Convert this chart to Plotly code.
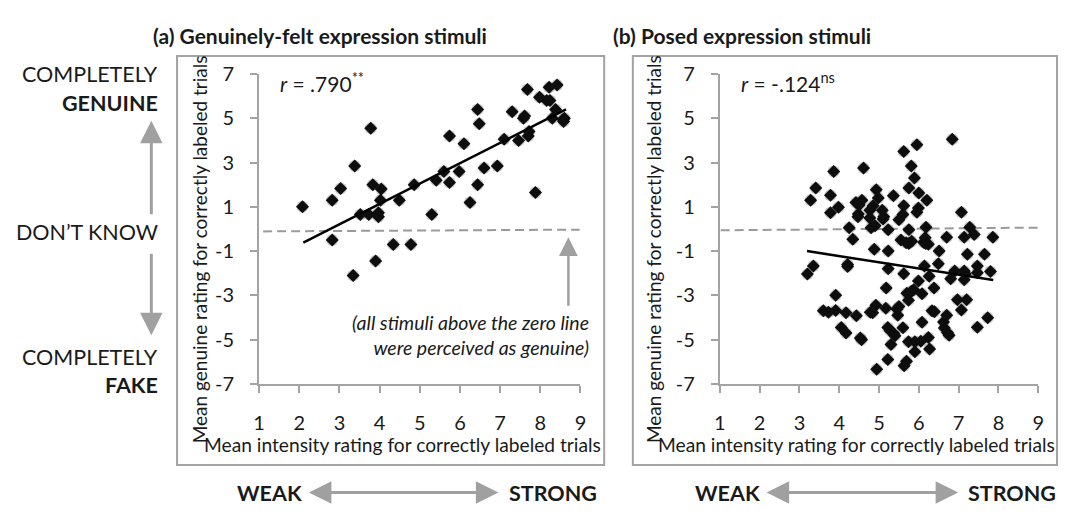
import plotly.graph_objects as go

W, H = 1065, 516

# ---- data: panel (a) genuinely-felt ----
a_intensity = [2.08, 2.82, 3.03, 2.82, 3.38, 3.34, 3.52, 3.73, 3.78, 3.83, 3.97, 3.97, 4.04, 4.02, 3.90,
               4.34, 4.49, 4.78, 4.86, 5.30, 5.41, 5.60, 5.74, 5.74, 5.98, 6.10, 6.25, 6.44, 6.44, 6.48,
               6.60, 6.93, 7.10, 7.30, 7.46, 7.58, 7.61, 7.68, 7.72, 7.70, 7.88, 7.98, 8.16, 8.24, 8.22,
               8.42, 8.30, 8.38, 8.57, 8.60, 8.58]
a_genuine = [1.00, 1.30, 1.83, -0.50, 2.85, -2.10, 0.65, 0.65, 4.55, 2.00, 0.73, 0.55, 1.80, 1.30, -1.45,
             -0.70, 1.30, -0.70, 2.00, 0.65, 2.20, 2.60, 2.10, 4.20, 2.60, 3.85, 1.20, 2.00, 5.40, 4.75,
             2.75, 2.85, 4.05, 5.30, 4.00, 5.00, 5.10, 6.30, 4.40, 4.20, 1.65, 5.95, 5.80, 5.80, 6.40,
             6.50, 5.00, 5.40, 4.95, 5.00, 4.85]
a_fit_x = [2.10, 8.64]
a_fit_y = [-0.62, 5.40]
a_zero_x = [1.10, 8.98]
a_zero_y = [-0.11, -0.03]

# ---- data: panel (b) posed ----
b_intensity = [6.84, 5.95, 5.62, 5.81, 4.61, 3.86, 5.89, 5.75, 3.41, 4.93, 6.00, 5.36, 3.78, 4.98, 3.28,
               6.20, 4.57, 4.42, 4.50, 5.62, 3.98, 4.85, 5.99, 5.08, 4.77, 5.95, 3.78, 4.48, 4.47, 7.07,
               5.12, 5.10, 5.60, 5.50, 4.77, 4.90, 4.80, 4.25, 5.23, 5.75, 6.18, 7.28, 7.39, 7.14, 7.86,
               6.70, 5.55, 4.34, 6.16, 6.12, 5.75, 5.82, 5.68, 6.24, 6.17, 6.51, 4.88, 5.23, 7.22, 7.65,
               3.35, 3.20, 4.21, 4.21, 5.23, 6.14, 6.49, 7.47, 6.90, 7.14, 7.17, 7.80, 5.62, 7.47, 6.80,
               6.26, 7.14, 5.99, 5.18, 6.38, 5.87, 5.81, 6.08, 5.70, 5.74, 3.91, 6.97, 7.20, 7.07, 4.92,
               5.17, 5.50, 5.45, 3.60, 3.73, 3.91, 4.17, 4.43, 4.78, 4.84, 5.47, 6.33, 6.39, 6.70, 7.73,
               6.08, 6.62, 4.05, 5.60, 5.22, 6.64, 7.47, 4.17, 5.28, 5.37, 5.40, 6.72, 6.76, 6.24, 4.53,
               4.56, 5.74, 5.90, 6.05, 5.30, 6.27, 5.90, 5.22, 5.69, 5.63, 4.94]
b_genuine = [4.05, 3.80, 3.50, 2.85, 2.75, 2.60, 2.30, 1.85, 1.85, 1.77, 1.62, 1.50, 1.52, 1.40, 1.30,
             1.30, 1.30, 1.20, 1.08, 1.05, 0.98, 1.05, 0.95, 0.85, 0.85, 0.75, 0.73, 0.68, 0.55, 0.75,
             0.55, 0.45, 0.65, 0.42, 0.50, 0.15, 0.05, 0.05, -0.03, -0.03, 0.08, 0.08, -0.25, -0.37, -0.37,
             -0.37, -0.50, -0.47, -0.40, -0.60, -0.66, -0.56, -0.62, -0.69, -0.66, -1.00, -0.92, -1.00, -1.14, -1.14,
             -1.67, -2.04, -1.60, -1.70, -1.80, -1.67, -1.57, -1.67, -1.90, -1.90, -2.03, -1.92, -2.02, -1.98, -2.25,
             -2.14, -2.30, -2.35, -2.67, -2.67, -2.75, -2.83, -2.93, -2.90, -3.22, -3.00, -3.20, -3.20, -3.66, -3.45,
             -3.58, -3.50, -3.62, -3.70, -3.76, -3.68, -3.78, -3.92, -3.76, -3.78, -3.90, -3.70, -3.74, -3.90, -4.01,
             -4.22, -4.20, -4.45, -4.46, -4.45, -4.47, -4.44, -4.70, -4.60, -4.72, -4.83, -4.69, -4.80, -4.90, -4.93,
             -5.00, -5.10, -5.10, -5.07, -5.22, -5.42, -5.55, -5.90, -5.98, -6.18, -6.34]
b_fit_x = [3.19, 7.87]
b_fit_y = [-1.00, -2.31]
b_zero_x = [1.02, 9.00]
b_zero_y = [-0.06, 0.06]

x_ticks = [1, 2, 3, 4, 5, 6, 7, 8, 9]
y_ticks = [-7, -5, -3, -1, 1, 3, 5, 7]
y_tick_labels = ["-7", "-5", "-3", "-1", "1", "3", "5", "7"]

FONT = "Lato"
GREY = "#a3a3a3"
TXT = "#1a1a1a"


def px(x):
    return x / W


def py(y):
    return 1 - y / H


fig = go.Figure()


def add_panel(xs, ys, fx, fy, zx, zy, xa, ya):
    fig.add_trace(go.Scatter(x=zx, y=zy, mode="lines", xaxis=xa, yaxis=ya,
                             line=dict(color="#9a9a9a", width=2, dash="9px,5px"),
                             hoverinfo="skip", showlegend=False))
    fig.add_trace(go.Scatter(x=xs, y=ys, mode="markers", xaxis=xa, yaxis=ya,
                             marker=dict(symbol="circle", size=12, color="rgba(0,0,0,0.22)",
                                         line=dict(width=0)),
                             hoverinfo="skip", showlegend=False))
    fig.add_trace(go.Scatter(x=xs, y=ys, mode="markers", xaxis=xa, yaxis=ya,
                             marker=dict(symbol="diamond", size=10, color="#0d0d0d",
                                         line=dict(width=0)),
                             showlegend=False))
    fig.add_trace(go.Scatter(x=fx, y=fy, mode="lines", xaxis=xa, yaxis=ya,
                             line=dict(color="black", width=2.5),
                             hoverinfo="skip", showlegend=False))


add_panel(a_intensity, a_genuine, a_fit_x, a_fit_y, a_zero_x, a_zero_y, "x", "y")
add_panel(b_intensity, b_genuine, b_fit_x, b_fit_y, b_zero_x, b_zero_y, "x2", "y2")

axis_common = dict(showline=True, linecolor=GREY, linewidth=2, ticks="outside", ticklen=7,
                   tickwidth=2, tickcolor=GREY, showgrid=False, zeroline=False,
                   tickfont=dict(family=FONT, size=20, color=TXT))

fig.update_layout(
    width=W, height=H, margin=dict(l=0, r=0, t=0, b=0),
    paper_bgcolor="white", plot_bgcolor="white", showlegend=False,
    xaxis=dict(domain=[px(256), px(581)], range=[1, 9], tickvals=x_ticks, anchor="y",
               ticklabelstandoff=13, **axis_common),
    yaxis=dict(domain=[py(389), py(64)], range=[-7, 7], tickvals=y_ticks, ticktext=y_tick_labels,
               anchor="x", ticklabelstandoff=12, **axis_common),
    xaxis2=dict(domain=[px(722), px(1044)], range=[1, 9], tickvals=x_ticks, anchor="y2",
                ticklabelstandoff=13, **axis_common),
    yaxis2=dict(domain=[py(389), py(64)], range=[-7, 7], tickvals=y_ticks, ticktext=y_tick_labels,
                anchor="x2", ticklabelstandoff=12, **axis_common),
)

# panel frames
for x0, x1 in [(173, 605), (634, 1063)]:
    fig.add_shape(type="rect", xref="paper", yref="paper", x0=px(x0), x1=px(x1), y0=py(474), y1=py(45),
                  line=dict(color=GREY, width=2), layer="below")

ann = []


def text(x, y, s, size=17, xanchor="center", bold=False, italic=False, angle=0, color=TXT, align="center"):
    if bold:
        s = "<b>" + s + "</b>"
    if italic:
        s = "<i>" + s + "</i>"
    ann.append(dict(x=px(x), y=py(y), xref="paper", yref="paper", text=s, showarrow=False,
                    xanchor=xanchor, yanchor="middle", textangle=angle, align=align,
                    font=dict(family=FONT, size=size, color=color)))


def arrow(x, y, ax, ay, both=False):
    ann.append(dict(x=px(x), y=py(y), xref="paper", yref="paper", ax=ax, ay=ay, text="",
                    showarrow=True, arrowhead=2, startarrowhead=2, arrowsize=1.5, startarrowsize=1.5,
                    arrowwidth=3, arrowcolor="#a0a0a0",
                    arrowside="end+start" if both else "end", standoff=0, startstandoff=0))


# titles
text(147, 24, "(a) Genuinely-felt expression stimuli", size=21, xanchor="left", bold=True)
text(612, 24, "(b) Posed expression stimuli", size=21, xanchor="left", bold=True)

# correlation labels
text(275, 72, "<i>r</i> = .790<sup>**</sup>", size=21, xanchor="left")
text(741, 72, "<i>r</i> = -.124<sup>ns</sup>", size=21, xanchor="left")

# axis titles
yt = "Mean genuine rating for correctly labeled trials"
xt = "Mean intensity rating for correctly labeled trials"
text(196, 248, yt, size=19, angle=-90)
text(655, 248, yt, size=19, angle=-90)
text(401, 453, xt, size=19.2)
text(860, 453, xt, size=19.2)

# left scale labels
text(156, 64, "COMPLETELY", size=21.5, xanchor="right")
text(156, 94, "GENUINE", size=21.5, xanchor="right", bold=True)
text(156, 230, "DON\u2019T KNOW", size=21.5, xanchor="right")
text(156, 361, "COMPLETELY", size=21.5, xanchor="right")
text(156, 390, "FAKE", size=21.5, xanchor="right", bold=True)
arrow(147, 113, 0, 95)
arrow(147, 338, 0, -83)

# bottom labels
text(232, 503, "WEAK", size=21.5, xanchor="left", bold=True)
text(600, 503, "STRONG", size=21.5, xanchor="right", bold=True)
arrow(498, 503, -191, 0, both=True)
text(695, 503, "WEAK", size=21.5, xanchor="left", bold=True)
text(1064, 503, "STRONG", size=21.5, xanchor="right", bold=True)
arrow(963, 503, -193, 0, both=True)

# note in panel (a)
text(592, 338, "(all stimuli above the zero line<br>were perceived as genuine)", size=19.5,
     xanchor="right", italic=True, align="right")
ann.append(dict(x=8.70, y=-0.37, xref="x", yref="y", ax=8.70, ay=-3.54, axref="x", ayref="y",
                text="", showarrow=True, arrowhead=2, arrowsize=1.5, arrowwidth=2.5,
                arrowcolor="#a0a0a0", standoff=0))

fig.update_layout(annotations=ann)

fig.write_html("out.html")
